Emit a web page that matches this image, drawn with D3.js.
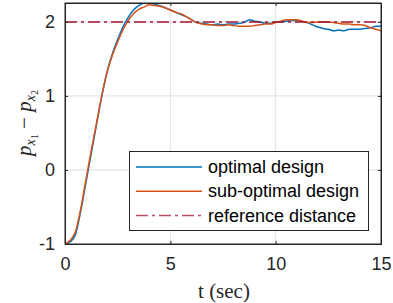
<!DOCTYPE html>
<html><head><meta charset="utf-8">
<script src="https://cdn.jsdelivr.net/npm/d3@7"></script>
<style>body{margin:0;background:#fff}svg{display:block}</style>
</head><body>
<script>
const timeS = [0,0.25,0.5,0.75,1,1.25,1.5,1.75,2,2.25,2.5,2.75,3,3.25,3.5,3.75,4,4.25,4.5,4.75,5,5.25,5.5,5.75,6,6.25,6.5,6.75,7,7.25,7.5,7.75,8,8.25,8.5,8.75,9,9.25,9.5,9.75,10,10.25,10.5,10.75,11,11.25,11.5,11.75,12,12.25,12.5,12.75,13,13.25,13.5,13.75,14,14.25,14.5,14.75,15];
const optimal = [-1.00,-0.97,-0.87,-0.55,-0.16,0.23,0.62,1.00,1.33,1.57,1.76,1.93,2.06,2.16,2.22,2.25,2.25,2.24,2.22,2.19,2.16,2.13,2.10,2.07,2.03,1.99,1.98,1.97,1.96,1.97,1.96,1.97,1.97,1.98,1.99,2.03,2.01,2.00,1.98,1.98,2.00,2.00,2.01,2.02,2.02,2.01,1.99,1.96,1.93,1.91,1.90,1.88,1.89,1.88,1.90,1.90,1.90,1.91,1.92,1.94,1.94];
const subOptimal = [-1.00,-0.95,-0.83,-0.52,-0.12,0.27,0.64,1.01,1.32,1.55,1.73,1.89,2.02,2.11,2.17,2.20,2.23,2.22,2.21,2.19,2.16,2.13,2.11,2.07,2.03,1.99,1.97,1.96,1.96,1.95,1.95,1.96,1.95,1.94,1.94,1.94,1.95,1.96,1.97,1.97,1.99,2.01,2.03,2.03,2.03,2.01,1.99,1.99,2.00,2.00,2.00,1.99,1.98,1.97,1.97,1.96,1.96,1.95,1.92,1.90,1.88];
const referenceValue = 2;
const xTicks = [0,5,10,15];
const yTicks = [-1,0,1,2];
const legendLabels = ["optimal design","sub-optimal design","reference distance"];

const W=393,H=303;
const m={l:65,r:381,t:3,b:244};
const svg=d3.select("body").append("svg").attr("width",W).attr("height",H);
const x=d3.scaleLinear().domain([0,15]).range([m.l,m.r]);
const y=d3.scaleLinear().domain([-1,2.255]).range([m.b,m.t]);
const axisCol="#262626";

// grid
svg.append("g").selectAll("line").data(xTicks.slice(1,-1)).join("line")
 .attr("x1",d=>x(d)).attr("x2",d=>x(d)).attr("y1",m.t).attr("y2",m.b)
 .attr("stroke","#dfdfdf").attr("stroke-width",1);
svg.append("g").selectAll("line").data(yTicks.slice(1)).join("line")
 .attr("y1",d=>y(d)).attr("y2",d=>y(d)).attr("x1",m.l).attr("x2",m.r)
 .attr("stroke","#dfdfdf").attr("stroke-width",1);

svg.append("clipPath").attr("id","clip").append("rect")
 .attr("x",m.l).attr("y",m.t).attr("width",m.r-m.l).attr("height",m.b-m.t);

const line=d3.line().x((d,i)=>x(timeS[i])).y(d=>y(d)).curve(d3.curveMonotoneX);
const g=svg.append("g").attr("clip-path","url(#clip)");
g.append("path").attr("d",line(optimal)).attr("fill","none").attr("stroke","#0072BD").attr("stroke-width",1.5);
g.append("path").attr("d",line(subOptimal)).attr("fill","none").attr("stroke","#D95319").attr("stroke-width",1.5);
g.append("line").attr("x1",x(0)).attr("x2",x(15)).attr("y1",y(referenceValue)).attr("y2",y(referenceValue))
 .attr("stroke","#A2142F").attr("stroke-opacity",0.75).attr("stroke-width",2).attr("stroke-dasharray","12,4,3,4");

// axes
const xb=svg.append("g").attr("transform",`translate(0,${m.b})`)
 .call(d3.axisBottom(x).tickValues(xTicks).tickSize(-3).tickPadding(13).tickFormat(d3.format("d")));
const xt=svg.append("g").attr("transform",`translate(0,${m.t})`)
 .call(d3.axisTop(x).tickValues(xTicks).tickSize(-3).tickFormat(""));
const yl=svg.append("g").attr("transform",`translate(${m.l},0)`)
 .call(d3.axisLeft(y).tickValues(yTicks).tickSize(-3).tickPadding(10).tickFormat(d=>d<0?"-"+Math.abs(d):d));
const yr=svg.append("g").attr("transform",`translate(${m.r},0)`)
 .call(d3.axisRight(y).tickValues(yTicks).tickSize(-3).tickFormat(""));
[xb,xt,yl,yr].forEach(a=>{
 a.select(".domain").attr("stroke",axisCol).attr("stroke-width",1);
 a.selectAll(".tick line").attr("stroke",axisCol);
 a.selectAll("text").attr("fill",axisCol).style("font-family","'Liberation Sans',Arial,sans-serif").style("font-size","18px");
});
svg.append("rect").attr("x",m.l).attr("y",m.t).attr("width",m.r-m.l).attr("height",m.b-m.t)
 .attr("fill","none").attr("stroke",axisCol).attr("stroke-width",1);

// x label
svg.append("text").attr("x",(m.l+m.r)/2+1).attr("y",298).attr("text-anchor","middle")
 .style("font-family","'Liberation Serif','DejaVu Serif',serif").style("font-size","21px").attr("fill",axisCol)
 .text("t (sec)");
// y label
const yt=svg.append("text").attr("transform",`translate(31,123) rotate(-90)`).attr("text-anchor","middle")
 .style("font-family","'Liberation Serif','DejaVu Serif',serif").style("font-size","21px").attr("fill",axisCol);
yt.append("tspan").style("font-style","italic").text("p");
yt.append("tspan").attr("dy",4).style("font-style","italic").style("font-size","14px").text("x");
yt.append("tspan").attr("dy",3).style("font-size","10px").text("1");
yt.append("tspan").attr("dy",-7).text(" \u2212 ");
yt.append("tspan").style("font-style","italic").text("p");
yt.append("tspan").attr("dy",4).style("font-style","italic").style("font-size","14px").text("x");
yt.append("tspan").attr("dy",3).style("font-size","10px").text("2");

// legend
const lg=svg.append("g");
lg.append("rect").attr("x",129.5).attr("y",151.5).attr("width",239).attr("height",79)
 .attr("fill","#fff").attr("stroke",axisCol).attr("stroke-width",1);
const legStyles=[{c:"#0072BD",o:1,w:1.5,d:null},{c:"#D95319",o:1,w:1.5,d:null},{c:"#A2142F",o:0.75,w:1.5,d:"12,4,3,4"}];
legendLabels.forEach((t,i)=>{
 const yy=167+i*24.3;
 const s=legStyles[i];
 lg.append("line").attr("x1",136).attr("x2",202).attr("y1",yy).attr("y2",yy)
  .attr("stroke",s.c).attr("stroke-opacity",s.o).attr("stroke-width",s.w).attr("stroke-dasharray",s.d);
 lg.append("text").attr("x",208).attr("y",yy+6).style("font-family","'Liberation Sans',Arial,sans-serif")
  .style("font-size","18px").attr("fill","#000").text(t);
});
</script>
</body></html>
